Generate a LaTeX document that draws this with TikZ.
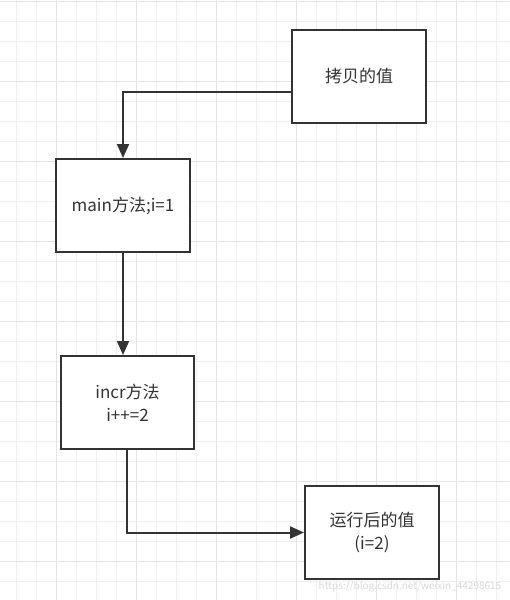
\documentclass[tikz,border=0pt]{standalone}
\usepackage{fontspec}
\setmainfont{Noto Sans CJK SC}
\usetikzlibrary{arrows.meta}
\definecolor{ink}{HTML}{333333}
\definecolor{gridminor}{HTML}{EFEFEF}
\definecolor{gridmajor}{HTML}{E3E3E3}
\definecolor{wm}{HTML}{D8D8D8}
\tikzset{
  box/.style={draw=ink, line width=2pt, fill=white, minimum width=134pt, minimum height=93pt, inner sep=0pt, align=center, text=ink, font=\fontsize{17}{23}\selectfont},
  arr/.style={draw=ink, line width=2pt, -{Triangle[length=14pt,width=12pt]}}
}
\begin{document}
\begin{tikzpicture}[x=1pt,y=-1pt]
\useasboundingbox (0,0) rectangle (510,600);
\fill[white] (0,0) rectangle (510,600);
% grid
\foreach \i in {0,...,25} {
  \draw[gridminor, line width=1pt] ({16.7+20*\i},0) -- ({16.7+20*\i},600);
}
\foreach \j in {0,...,29} {
  \draw[gridminor, line width=1pt] (0,{1.7+20*\j}) -- (510,{1.7+20*\j});
}
\foreach \i in {0,...,6} {
  \draw[gridmajor, line width=1.3pt] ({56.7+80*\i},0) -- ({56.7+80*\i},600);
}
\foreach \j in {0,...,7} {
  \draw[gridmajor, line width=1.3pt] (0,{1.7+80*\j}) -- (510,{1.7+80*\j});
}
% boxes
\node[box] (b1) at (359,76) {拷贝的值};
\node[box] (b2) at (123,205.5) {main方法;i=1};
\node[box, minimum width=133pt] (b3) at (127.5,402.5) {incr方法\\i++=2};
\node[box] (b4) at (372,532.5) {运行后的值\\(i=2)};
% connectors
\draw[arr] ([yshift=-16pt]b1.west) -| (b2.north);
\draw[arr] (b2.south) -- (b2.south |- b3.north);
\draw[arr] ([xshift=-0.8pt]b3.south) |- (b4.west);
% watermark
\node[text=wm, font=\fontsize{10}{12}\selectfont, inner sep=0pt] (wm) at (410,587) {https://blog.csdn.net/weixin\_44298615};
\end{tikzpicture}
\end{document}
